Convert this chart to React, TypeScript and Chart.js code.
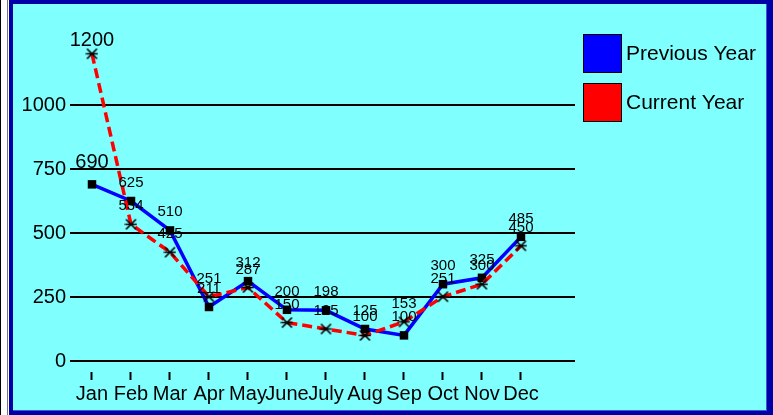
import React, { useEffect, useRef } from "react";
import { Chart, registerables } from "chart.js";

Chart.register(...registerables);

const months = ["Jan", "Feb", "Mar", "Apr", "May", "June", "July", "Aug", "Sep", "Oct", "Nov", "Dec"];
const previousYear = [690, 625, 510, 211, 312, 200, 198, 125, 100, 300, 325, 485];
const currentYear = [1200, 534, 425, 251, 287, 150, 125, 100, 153, 251, 300, 450];
const yTicks = [0, 250, 500, 750, 1000];
const seriesNames = ["Previous Year", "Current Year"];
const seriesColors = ["#0000ff", "#ff0000"];

const FONT = "'Liberation Sans', Arial, Helvetica, sans-serif";

const framePlugin = {
  id: "frame",
  beforeDraw(chart: any) {
    const ctx = chart.ctx;
    const W = chart.width;
    const H = chart.height;
    ctx.save();
    ctx.fillStyle = "#ffffff";
    ctx.fillRect(0, 0, W, H);
    ctx.fillStyle = "#000000";
    ctx.fillRect(0, 0, 1, H);
    ctx.fillStyle = "#777777";
    ctx.fillRect(7, 0, 1, H);
    ctx.fillStyle = "#0000a8";
    ctx.fillRect(9, 0, W - 9, H);
    ctx.fillStyle = "#3a5ad0";
    ctx.fillRect(13, 4, W - 13 - 6, H - 4 - 4);
    ctx.fillStyle = "#80ffff";
    ctx.fillRect(13, 4, W - 13 - 7, H - 4 - 5);
    ctx.restore();
  },
};

const labelsPlugin = {
  id: "valueLabels",
  afterDatasetsDraw(chart: any) {
    const ctx = chart.ctx;
    ctx.save();
    ctx.fillStyle = "#000";
    ctx.textAlign = "center";
    ctx.textBaseline = "alphabetic";
    chart.data.datasets.forEach((ds: any, di: number) => {
      const meta = chart.getDatasetMeta(di);
      meta.data.forEach((pt: any, i: number) => {
        const v = ds.data[i].y;
        let size = 15;
        let off = 14;
        if (i === 0) {
          size = 20;
          off = di === 0 ? 16 : 8;
        }
        ctx.font = `${size}px ${FONT}`;
        ctx.fillText(String(v), pt.x, pt.y - off);
      });
    });
    ctx.restore();
  },
};

const legendPlugin = {
  id: "customLegend",
  afterDraw(chart: any) {
    const ctx = chart.ctx;
    const x = chart.chartArea.right + 8;
    const tops = [34, 83];
    ctx.save();
    chart.data.datasets.forEach((ds: any, di: number) => {
      const y = tops[di];
      ctx.fillStyle = seriesColors[di];
      ctx.fillRect(x, y, 39, 39);
      ctx.strokeStyle = "#000";
      ctx.lineWidth = 1;
      ctx.strokeRect(x + 0.5, y + 0.5, 38, 38);
      ctx.fillStyle = "#000";
      ctx.font = `21px ${FONT}`;
      ctx.textAlign = "left";
      ctx.textBaseline = "middle";
      ctx.fillText(ds.label, x + 43, y + 20);
    });
    ctx.restore();
  },
};

function makeStar(): HTMLCanvasElement {
  const c = document.createElement("canvas");
  c.width = 13;
  c.height = 13;
  const g = c.getContext("2d")!;
  g.strokeStyle = "#000";
  g.lineWidth = 1.6;
  g.beginPath();
  g.moveTo(0.5, 6.5);
  g.lineTo(12.5, 6.5);
  g.moveTo(1.5, 1.5);
  g.lineTo(11.5, 11.5);
  g.moveTo(1.5, 11.5);
  g.lineTo(11.5, 1.5);
  g.stroke();
  return c;
}

export default function App() {
  const ref = useRef<HTMLCanvasElement | null>(null);

  useEffect(() => {
    if (!ref.current) return;
    const star = makeStar();
    const chart = new Chart(ref.current, {
      type: "line",
      data: {
        datasets: [
          {
            label: seriesNames[0],
            data: previousYear.map((v, i) => ({ x: i, y: v })),
            borderColor: seriesColors[0],
            backgroundColor: seriesColors[0],
            borderWidth: 3.5,
            pointStyle: "rect",
            pointRadius: 6,
            pointBackgroundColor: "#000",
            pointBorderColor: "#000",
            pointBorderWidth: 0,
            tension: 0,
            fill: false,
            order: 1,
          },
          {
            label: seriesNames[1],
            data: currentYear.map((v, i) => ({ x: i, y: v })),
            borderColor: seriesColors[1],
            backgroundColor: seriesColors[1],
            borderWidth: 3.5,
            borderDash: [10, 5],
            pointStyle: star as any,
            pointRadius: 6,
            tension: 0,
            fill: false,
            order: 0,
          },
        ],
      },
      options: {
        responsive: false,
        animation: false,
        devicePixelRatio: 1,
        layout: { padding: { left: 0, right: 198, top: 41, bottom: 0 } },
        plugins: {
          legend: { display: false },
          tooltip: { enabled: false },
        },
        scales: {
          x: {
            type: "linear",
            min: -0.564,
            max: 12.385,
            afterBuildTicks: (s: any) => {
              s.ticks = months.map((_, i) => ({ value: i }));
            },
            afterFit: (s: any) => {
              s.height = 43;
            },
            ticks: {
              autoSkip: false,
              maxRotation: 0,
              minRotation: 0,
              padding: 2,
              color: "#000",
              font: { family: FONT, size: 20 },
              callback: (v: any) => months[Math.round(Number(v))],
            },
            grid: {
              drawOnChartArea: false,
              tickLength: 8,
              tickWidth: 2,
              tickColor: "#000",
              color: "#000",
            },
            border: { display: false },
          },
          y: {
            type: "linear",
            min: -43,
            max: 1250,
            afterBuildTicks: (s: any) => {
              s.ticks = yTicks.map((v) => ({ value: v }));
            },
            afterFit: (s: any) => {
              s.width = 70;
            },
            ticks: {
              padding: 4,
              color: "#000",
              font: { family: FONT, size: 20 },
              callback: (v: any) => String(v),
            },
            grid: { color: "#000", lineWidth: 2, drawTicks: false },
            border: { display: false },
          },
        },
      } as any,
      plugins: [framePlugin, labelsPlugin, legendPlugin],
    });
    return () => chart.destroy();
  }, []);

  return (
    <div style={{ position: "fixed", left: 0, top: 0, width: 773, height: 415 }}>
      <canvas ref={ref} width={773} height={415} style={{ display: "block", width: 773, height: 415 }} />
    </div>
  );
}
